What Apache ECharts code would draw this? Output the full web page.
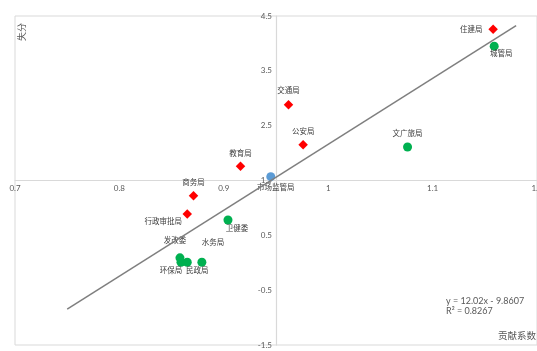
<!DOCTYPE html>
<html>
<head>
<meta charset="utf-8">
<script src="https://cdn.jsdelivr.net/npm/echarts@6/dist/echarts.min.js"></script>
<style>
  html, body { margin: 0; padding: 0; background: #fff; }
  #chart { width: 537px; height: 351px; }
</style>
</head>
<body>
<div id="chart"></div>
<script>
// 各部门：贡献系数 / 失分
const names = ['住建局', '城管局', '交通局', '公安局', '教育局', '文广旅局', '市场监管局',
  '商务局', '行政审批局', '卫健委', '发改委', '环保局', '民政局', '水务局'];
const contrib = [1.158, 1.159, 0.962, 0.976, 0.916, 1.076, 0.945, 0.871, 0.865, 0.904, 0.858, 0.859, 0.865, 0.879];
const loss = [4.26, 3.95, 2.88, 2.15, 1.76, 2.11, 1.57, 1.22, 0.89, 0.78, 0.09, 0.01, 0.01, 0.01];
const group = ['red', 'green', 'red', 'red', 'red', 'green', 'blue', 'red', 'red', 'green', 'green', 'green', 'green', 'green'];

// 趋势线 y = 12.02x - 9.8607
const trendSlope = 12.02;
const trendIntercept = -9.8607;
const trendRange = [0.75, 1.18];

// 标签相对点中心的偏移
const labelOffset = {
  '住建局': [-22, 0], '城管局': [7, 7], '交通局': [0, -14], '公安局': [0, -13],
  '教育局': [0, -13], '文广旅局': [0, -13], '市场监管局': [5, 11], '商务局': [0, -13],
  '行政审批局': [-24, 8], '卫健委': [9, 9], '发改委': [-5, -17], '环保局': [-10, 8],
  '民政局': [10, 8], '水务局': [11, -20]
};

const styles = {
  red: { symbol: 'diamond', size: 9.5, color: '#FF0000' },
  green: { symbol: 'circle', size: 9, color: '#00B050' },
  blue: { symbol: 'circle', size: 9, color: '#5B9BD5' }
};

const cjk = 'Lato, "Noto Sans CJK SC", sans-serif';

function pointsOf(g) {
  const out = [];
  names.forEach((n, i) => {
    if (group[i] !== g) return;
    out.push({
      name: n,
      value: [contrib[i], loss[i]],
      label: { offset: labelOffset[n] }
    });
  });
  return out;
}

const scatterSeries = Object.keys(styles).map(g => ({
  type: 'scatter',
  symbol: styles[g].symbol,
  symbolSize: styles[g].size,
  itemStyle: { color: styles[g].color, opacity: 1 },
  label: {
    show: true,
    position: 'inside',
    formatter: '{b}',
    color: '#404040',
    fontSize: 7.5,
    fontFamily: cjk
  },
  emphasis: { disabled: true },
  data: pointsOf(g),
  z: 2
}));

const trendData = trendRange.map(x => [x, trendSlope * x + trendIntercept]);

const chart = echarts.init(document.getElementById('chart'));
const gridW = 522, gridH = 329;

chart.setOption({
  animation: false,
  grid: {
    left: 15, top: 16, width: gridW, height: gridH,
    outerBoundsMode: 'none',
    containLabel: false,
    show: true, borderColor: '#d9d9d9', borderWidth: 1
  },
  xAxis: {
    type: 'value', min: 0.7, max: 1.2, interval: 0.1,
    position: 'bottom',
    offset: -gridH / 2,
    axisLine: { onZero: false, lineStyle: { color: '#d9d9d9', width: 1.2 } },
    axisTick: { show: false },
    splitLine: { show: false },
    axisLabel: { color: '#595959', fontSize: 8, margin: 4, fontFamily: cjk, hideOverlap: false }
  },
  yAxis: {
    type: 'value', min: -1.5, max: 4.5, interval: 1,
    position: 'left',
    offset: -gridW / 2,
    axisLine: { show: true, onZero: false, lineStyle: { color: '#d9d9d9', width: 1.2 } },
    axisTick: { show: false },
    splitLine: { show: false },
    axisLabel: { color: '#595959', fontSize: 8, margin: 4, fontFamily: cjk }
  },
  graphic: [
    {
      type: 'text', x: 22.5, y: 32, rotation: Math.PI / 2,
      style: { text: '失分', fill: '#595959', fontSize: 9, fontFamily: cjk, align: 'center', verticalAlign: 'middle' }
    },
    {
      type: 'text', x: 536, y: 336,
      style: { text: '贡献系数', fill: '#595959', fontSize: 9.5, fontFamily: cjk, align: 'right', verticalAlign: 'middle' }
    },
    {
      type: 'text', x: 446, y: 301,
      style: { text: 'y = 12.02x - 9.8607', fill: '#595959', fontSize: 9, fontFamily: cjk, verticalAlign: 'middle' }
    },
    {
      type: 'text', x: 446, y: 311,
      style: { text: 'R² = 0.8267', fill: '#595959', fontSize: 9, fontFamily: cjk, verticalAlign: 'middle' }
    }
  ],
  series: scatterSeries.concat([{
    type: 'line',
    data: trendData,
    symbol: 'none',
    lineStyle: { color: '#7f7f7f', width: 1.5 },
    silent: true,
    z: 3
  }])
});
</script>
</body>
</html>
